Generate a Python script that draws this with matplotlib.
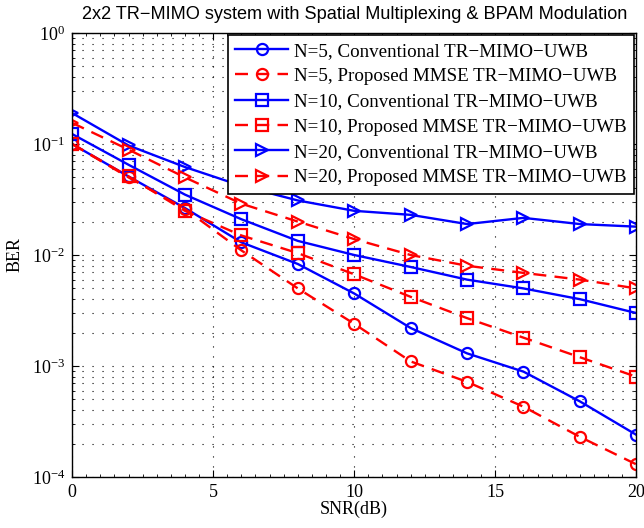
import matplotlib
matplotlib.use("Agg")
import matplotlib.pyplot as plt
from matplotlib.ticker import MultipleLocator

plt.rcParams["font.family"] = ["Liberation Serif", "DejaVu Serif"]
plt.rcParams["mathtext.fontset"] = "custom"
plt.rcParams["mathtext.rm"] = "Liberation Serif"
plt.rcParams["mathtext.it"] = "Liberation Serif:italic"

snr = [0, 2, 4, 6, 8, 10, 12, 14, 16, 18, 20]

n5_conv = [0.10, 0.051, 0.0265, 0.013, 0.0083, 0.0045, 0.0022, 0.0013, 0.00089, 0.00048, 0.00024]
n5_mmse = [0.10, 0.050, 0.026, 0.011, 0.0050, 0.0024, 0.0011, 0.00072, 0.00043, 0.00023, 0.00013]
n10_conv = [0.123, 0.065, 0.035, 0.021, 0.0134, 0.010, 0.0078, 0.0060, 0.0050, 0.0040, 0.0030]
n10_mmse = [0.100, 0.051, 0.025, 0.015, 0.0104, 0.0067, 0.0042, 0.0027, 0.0018, 0.0012, 0.0008]
n20_conv = [0.19, 0.097, 0.062, 0.042, 0.031, 0.025, 0.023, 0.019, 0.0216, 0.019, 0.018]
n20_mmse = [0.155, 0.089, 0.050, 0.029, 0.020, 0.0139, 0.010, 0.0080, 0.0069, 0.0060, 0.0050]

labels = [
    "N=5, Conventional TR\u2212MIMO\u2212UWB",
    "N=5, Proposed MMSE TR\u2212MIMO\u2212UWB",
    "N=10, Conventional TR\u2212MIMO\u2212UWB",
    "N=10, Proposed MMSE TR\u2212MIMO\u2212UWB",
    "N=20, Conventional TR\u2212MIMO\u2212UWB",
    "N=20, Proposed MMSE TR\u2212MIMO\u2212UWB",
]
series = [n5_conv, n5_mmse, n10_conv, n10_mmse, n20_conv, n20_mmse]
markers = ["o", "o", "s", "s", ">", ">"]

fig = plt.figure(figsize=(6.44, 5.28), dpi=100)
ax = fig.add_axes([0.112, 0.0966, 0.876, 0.8409])

for i, (vals, lab, mk) in enumerate(zip(series, labels, markers)):
    if i % 2 == 0:
        color, ls = (0, 0, 1), "-"
    else:
        color, ls = (1, 0, 0), (0, (5.5, 3.5))
    ax.semilogy(snr, vals, color=color, linestyle=ls, linewidth=1.7,
                marker=mk, markersize=8, markerfacecolor="none",
                markeredgewidth=1.6, label=lab)

ax.set_xlim(0, 20)
ax.set_ylim(1e-4, 1)
ax.set_xticks([0, 5, 10, 15, 20])
ax.xaxis.set_minor_locator(MultipleLocator(0.5))
ax.grid(True, which="major", color="black", linestyle=(0, (1, 8)), linewidth=0.8)
ax.grid(True, which="minor", axis="y", color="black", linestyle=(0, (1, 8)), linewidth=0.8)
ax.tick_params(which="both", direction="in", top=True, right=True, labelsize=13)
ax.tick_params(which="major", length=5, pad=5)
ax.tick_params(which="minor", length=2.5)
for s in ax.spines.values():
    s.set_linewidth(1.0)

ax.set_xlabel("SNR(dB)", fontsize=13, labelpad=0)
ax.set_ylabel("BER", fontsize=13, labelpad=6)
ax.set_title("2x2 TR\u2212MIMO system with Spatial Multiplexing & BPAM Modulation",
             fontsize=13.05, family=["Liberation Sans", "DejaVu Sans"], pad=10)

leg = ax.legend(loc="upper right", fontsize=13.7, fancybox=False, framealpha=1,
                edgecolor="black", borderpad=0.4, labelspacing=0.42,
                handlelength=2.8, handletextpad=0.3, borderaxespad=0.1)
leg.get_frame().set_linewidth(1.2)

fig.savefig("out.png", dpi=100)
